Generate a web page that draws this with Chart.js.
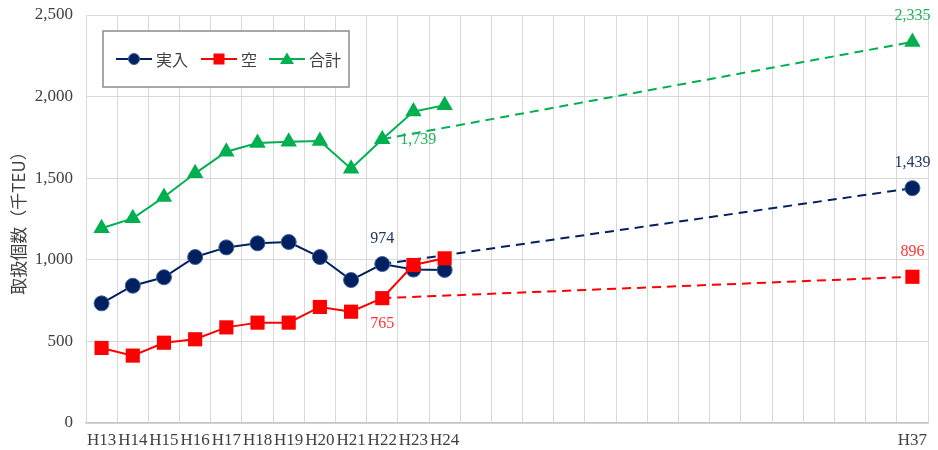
<!DOCTYPE html>
<html>
<head>
<meta charset="utf-8">
<script src="https://cdn.jsdelivr.net/npm/chart.js@4/dist/chart.umd.min.js"></script>
<style>
  html, body { margin: 0; padding: 0; background: #fff; }
  #wrap { width: 938px; height: 450px; position: relative; }
</style>
</head>
<body>
<div id="wrap"><canvas id="c"></canvas></div>
<script>
// Fiscal-year categories; the blank slots keep the long gap before the H37 target year
const categories = ['H13','H14','H15','H16','H17','H18','H19','H20','H21','H22','H23','H24',
  '','','','','','','','','','','','','','','H37'];

// Container throughput (thousand TEU), results H13–H24
const loaded = [733, 841, 893, 1017, 1076, 1101, 1109, 1017, 876, 974, 940, 938];   // 実入
const empty  = [460, 413, 492, 513, 586, 615, 615, 711, 682, 765, 968, 1009];        // 空
const total  = [1193, 1254, 1385, 1530, 1662, 1716, 1724, 1728, 1558, 1739, 1908, 1947]; // 合計

// Target year and its planned values
const baseYear = 'H22';
const targetYear = 'H37';
const targetLoaded = 1439;
const targetEmpty = 896;
const targetTotal = 2335;

// Value axis
const yTicks = [0, 500, 1000, 1500, 2000, 2500];

const seriesNames = ['実入', '空', '合計'];
const colors = { loaded: '#002060', empty: '#ff0000', total: '#00b050' };

const n = categories.length;
const baseIdx = categories.indexOf(baseYear);
const targetIdx = categories.indexOf(targetYear);

function padded(arr) {
  const out = new Array(n).fill(null);
  arr.forEach((v, i) => out[i] = v);
  return out;
}
function projection(series, target) {
  const out = new Array(n).fill(null);
  out[baseIdx] = series[baseIdx];
  out[targetIdx] = target;
  return out;
}

const marker = {
  loaded: { pointStyle: 'circle', pointRadius: 7.5, pointBackgroundColor: '#002060', pointBorderColor: '#3d5f9e', pointBorderWidth: 1 },
  empty:  { pointStyle: 'rect', pointRadius: 10, pointBackgroundColor: '#ff0000', pointBorderColor: '#ff0000', pointBorderWidth: 0 },
  total:  { pointStyle: 'triangle', pointRadius: 9.5, pointBackgroundColor: '#00b050', pointBorderColor: '#00b050', pointBorderWidth: 0 }
};

function actualSet(label, data, key) {
  return Object.assign({
    label, data: padded(data), borderColor: colors[key], borderWidth: 2,
    tension: 0, spanGaps: false, pointHoverRadius: marker[key].pointRadius
  }, marker[key]);
}
function projSet(label, series, target, key) {
  const m = marker[key];
  return Object.assign({}, m, {
    label, data: projection(series, target), borderColor: colors[key], borderWidth: 2,
    borderDash: [9, 6], tension: 0, spanGaps: true,
    pointRadius: ctx => ctx.dataIndex === targetIdx ? m.pointRadius : 0,
    pointHoverRadius: ctx => ctx.dataIndex === targetIdx ? m.pointRadius : 0
  });
}

// Datasets earlier in the list are painted on top
const datasets = [
  actualSet(seriesNames[1], empty, 'empty'),
  actualSet(seriesNames[0], loaded, 'loaded'),
  actualSet(seriesNames[2], total, 'total'),
  projSet(seriesNames[1] + '計画', empty, targetEmpty, 'empty'),
  projSet(seriesNames[0] + '計画', loaded, targetLoaded, 'loaded'),
  projSet(seriesNames[2] + '計画', total, targetTotal, 'total')
];

const fmt = v => v.toLocaleString('en-US');
const SERIF = '"Liberation Serif", "DejaVu Serif", serif';
const JP = '"Noto Sans CJK JP", sans-serif';

// Value labels on the base year and target year
const valueLabels = {
  id: 'valueLabels',
  afterDatasetsDraw(chart) {
    const ctx = chart.ctx;
    ctx.save();
    ctx.font = '16px ' + SERIF;
    ctx.textBaseline = 'middle';
    const pt = (ds, i) => chart.getDatasetMeta(ds).data[i];
    const put = (text, x, y, color, align) => {
      ctx.fillStyle = color; ctx.textAlign = align; ctx.fillText(text, x, y);
    };
    let p;
    p = pt(1, baseIdx); put(fmt(loaded[baseIdx]), p.x, p.y - 25, '#203864', 'center');
    p = pt(0, baseIdx); put(fmt(empty[baseIdx]), p.x, p.y + 26, '#ff3333', 'center');
    p = pt(2, baseIdx); put(fmt(total[baseIdx]), p.x + 18, p.y + 1, '#1fb25a', 'left');
    p = pt(5, targetIdx); put(fmt(targetTotal), p.x, p.y - 26, '#1fb25a', 'center');
    p = pt(4, targetIdx); put(fmt(targetLoaded), p.x, p.y - 25, '#203864', 'center');
    p = pt(3, targetIdx); put(fmt(targetEmpty), p.x, p.y - 25, '#ff3333', 'center');
    ctx.restore();
  }
};

// Boxed legend inside the plot area: line with marker, then series name
const boxedLegend = {
  id: 'boxedLegend',
  afterDraw(chart) {
    const ctx = chart.ctx;
    const a = chart.chartArea;
    const bx = a.left + 17, by = a.top + 16, bw = 246, bh = 56;
    ctx.save();
    ctx.fillStyle = '#fff';
    ctx.fillRect(bx, by, bw, bh);
    ctx.strokeStyle = '#8c8c8c';
    ctx.lineWidth = 1.5;
    ctx.strokeRect(bx, by, bw, bh);
    const cy = by + 28;
    const items = [
      { key: 'loaded', name: seriesNames[0], x0: bx + 13 },
      { key: 'empty', name: seriesNames[1], x0: bx + 98 },
      { key: 'total', name: seriesNames[2], x0: bx + 166 }
    ];
    items.forEach(it => {
      const c = colors[it.key];
      ctx.strokeStyle = c; ctx.lineWidth = 2;
      ctx.beginPath(); ctx.moveTo(it.x0, cy); ctx.lineTo(it.x0 + 36, cy); ctx.stroke();
      const mx = it.x0 + 18;
      ctx.fillStyle = c;
      ctx.beginPath();
      if (it.key === 'loaded') {
        ctx.arc(mx, cy, 5.5, 0, Math.PI * 2); ctx.fill();
        ctx.strokeStyle = '#3d5f9e'; ctx.lineWidth = 1; ctx.stroke();
      } else if (it.key === 'empty') {
        ctx.fillRect(mx - 5.5, cy - 5.5, 11, 11);
      } else {
        ctx.moveTo(mx, cy - 6.5); ctx.lineTo(mx + 7, cy + 5); ctx.lineTo(mx - 7, cy + 5); ctx.closePath(); ctx.fill();
      }
      ctx.fillStyle = '#404040';
      ctx.font = '16px ' + JP;
      ctx.textAlign = 'left'; ctx.textBaseline = 'middle';
      ctx.fillText(it.name, it.x0 + 40, cy + 1);
    });
    ctx.restore();
  }
};

new Chart(document.getElementById('c'), {
  type: 'line',
  data: { labels: categories, datasets },
  options: {
    responsive: true,
    maintainAspectRatio: false,
    animation: false,
    events: [],
    layout: { padding: { left: 0, right: 6, top: 15, bottom: 0 } },
    plugins: { legend: { display: false }, tooltip: { enabled: false } },
    scales: {
      x: {
        type: 'category',
        offset: true,
        grid: { offset: true, color: '#d9d9d9', lineWidth: 1, drawTicks: false },
        border: { color: '#c8c8c8', width: 1.5 },
        ticks: {
          autoSkip: false, maxRotation: 0, minRotation: 0, padding: 7,
          color: '#404040', font: { family: SERIF, size: 17 }
        },
        afterFit: s => { s.height = 27; s.paddingLeft = 0; s.paddingRight = 0; }
      },
      y: {
        min: 0, max: 2500,
        afterBuildTicks: s => { s.ticks = yTicks.map(v => ({ value: v })); },
        grid: { color: '#d9d9d9', lineWidth: 1, drawTicks: false },
        border: { color: '#d9d9d9', width: 1 },
        ticks: {
          padding: 13, color: '#404040', font: { family: SERIF, size: 17 },
          callback: v => fmt(v)
        },
        title: {
          display: true, text: '取扱個数（千TEU）', color: '#404040',
          font: { family: JP, size: 17 }, padding: { top: 8, bottom: 0 }
        },
        afterFit: s => { s.width = 86; s.paddingTop = 0; s.paddingBottom = 0; }
      }
    }
  },
  plugins: [valueLabels, boxedLegend]
});
</script>
</body>
</html>
